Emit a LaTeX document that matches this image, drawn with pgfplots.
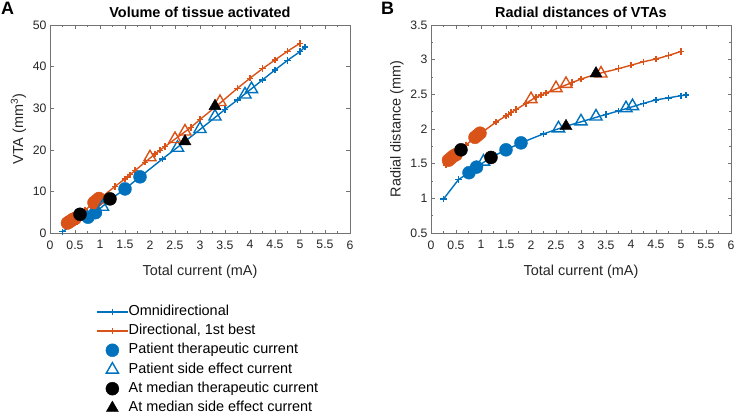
\documentclass[border=0pt]{standalone}
\usepackage{fontspec}
\setmainfont{Liberation Sans}
\usepackage{pgfplots}
\pgfplotsset{compat=1.18}
\definecolor{mblue}{rgb}{0,0.447,0.741}
\definecolor{morange}{rgb}{0.85,0.325,0.098}
\definecolor{axgray}{rgb}{0.15,0.15,0.15}
\definecolor{boxgray}{rgb}{0.45,0.45,0.45}

\pgfplotstableread{
x vta r
0.3 1.9 1.48
0.5 3.6 1.62
0.7 5.5 1.77
0.9 7.4 1.89
1.0 8.3 1.94
1.3 11.2 2.10
1.5 13.0 2.19
1.55 13.5 2.21
1.6 14.0 2.24
1.7 15.0 2.28
1.9 17.0 2.37
2.1 19.0 2.46
2.2 19.9 2.49
2.3 20.8 2.52
2.82 25.4 2.67
3.0 27.3 2.72
3.3 30.2 2.79
3.75 34.8 2.87
4.0 37.2 2.92
4.25 39.5 2.97
4.5 41.6 3.01
4.75 43.7 3.06
5.0 45.6 3.12
}\dirline

\pgfplotstableread{
x vta r
0.25 0.3 0.99
0.55 2.8 1.27
0.76 3.8 1.37
0.91 4.9 1.45
1.2 8.0 1.59
1.5 10.6 1.70
1.8 13.5 1.80
2.25 17.8 1.93
2.7 22.0 2.04
3.5 29.7 2.21
3.75 32.0 2.26
4.25 36.8 2.37
4.5 39.2 2.42
4.75 41.5 2.45
5.0 43.6 2.48
5.1 44.7 2.49
}\omniline

\pgfplotstableread{
x vta r
0.76 3.8 1.37
0.91 4.9 1.45
1.5 10.6 1.70
1.8 13.5 1.80
}\omnither

\pgfplotstableread{
x vta r
1.05 6.3 1.53
2.55 20.5 2.01
3.0 25.0 2.11
3.3 28.0 2.18
3.9 33.3 2.30
4.03 34.6 2.33
}\omniside

\pgfplotstableread{
x vta r
0.35 2.4 1.55
0.4 2.8 1.58
0.45 3.2 1.61
0.5 3.5 1.63
0.88 7.3 1.88
0.93 7.8 1.91
0.98 8.3 1.94
}\dirther

\pgfplotstableread{
x vta r
2.0 18.2 2.43
2.5 22.6 2.59
2.7 24.4 2.65
3.4 31.5 2.80
}\dirside

\pgfplotstableread{
x vta r
0.6 4.5 1.70
1.2 8.2 1.59
}\medther

\pgfplotstableread{
x vta r
2.7 22.0 2.04
3.3 30.5 2.80
}\medside

\pgfplotsset{
  myaxis/.style={
    scale only axis, width=300bp, height=208bp,
    xmin=0, xmax=6, xtick={0,0.5,...,6}, minor x tick num=1,
    tick align=inside,
    major tick length=3.5bp, minor tick length=2.2bp,
    axis line style={draw=boxgray},
    every tick/.style={boxgray},
    tick label style={font=\fontsize{12.3}{12.3}\selectfont, color=axgray},
    xticklabel style={yshift=-4bp},
    label style={font=\fontsize{14.5}{14.5}\selectfont, color=axgray},
    xlabel style={yshift=-9bp},
    title style={font=\bfseries\fontsize{14.5}{14.5}\selectfont, yshift=-2bp},
    /pgf/number format/assume math mode=true,
    /pgf/number format/fixed,
    xlabel={Total current (mA)},
    linestyle/.style={line width=1.4bp, mark=+, mark size=3.2bp},
    circstyle/.style={only marks, mark=*, mark size=6.5bp},
    tristyle/.style={only marks, mark=triangle, mark size=7bp, line width=1.4bp},
    tristylefilled/.style={only marks, mark=triangle*, mark size=7bp},
  }
}

\begin{document}
\begin{tikzpicture}
\useasboundingbox (0,0) rectangle (736bp,-416bp);

\begin{axis}[myaxis, at={(50bp,-233bp)}, anchor=south west,
  ymin=0, ymax=50, ytick={0,10,...,50},
  ylabel={VTA (mm\textsuperscript{3})},
  title={Volume of tissue activated},
  legend image code/.code={\draw[mark repeat=2,mark phase=2,#1] plot coordinates {(0cm,0cm) (0.55cm,0cm) (1.1cm,0cm)};},
  legend style={at={(0.143,-0.337)}, anchor=north west, draw=none, fill=none,
    font=\fontsize{14.5}{14.5}\selectfont, text=black, row sep=5.6bp,
    nodes={inner sep=0pt, text height=10.5bp, text depth=3bp},
    /tikz/every even column/.append style={column sep=4bp}},
  legend cell align=left,
]
\addlegendimage{mblue, linestyle}
\addlegendimage{morange, linestyle}
\addlegendimage{mblue, circstyle}
\addlegendimage{mblue, tristyle}
\addlegendimage{black, circstyle}
\addlegendimage{black, tristylefilled}
\legend{Omnidirectional, {Directional, 1st best}, Patient therapeutic current, Patient side effect current, At median therapeutic current, At median side effect current}

\addplot[mblue, linestyle, forget plot] table[x=x, y=vta] {\omniline};
\addplot[morange, linestyle, forget plot] table[x=x, y=vta] {\dirline};
\addplot[mblue, circstyle, forget plot] table[x=x, y=vta] {\omnither};
\addplot[morange, circstyle, forget plot] table[x=x, y=vta] {\dirther};
\addplot[mblue, tristyle, forget plot] table[x=x, y=vta] {\omniside};
\addplot[morange, tristyle, forget plot] table[x=x, y=vta] {\dirside};
\addplot[black, circstyle, forget plot] table[x=x, y=vta] {\medther};
\addplot[black, tristylefilled, forget plot] table[x=x, y=vta] {\medside};
\end{axis}

\begin{axis}[myaxis, at={(431bp,-233bp)}, anchor=south west,
  ymin=0.5, ymax=3.5, ytick={0.5,1,...,3.5}, minor y tick num=1,
  ylabel={Radial distance (mm)},
  title={Radial distances of VTAs},
]
\addplot[mblue, linestyle] table[x=x, y=r] {\omniline};
\addplot[morange, linestyle] table[x=x, y=r] {\dirline};
\addplot[mblue, circstyle] table[x=x, y=r] {\omnither};
\addplot[morange, circstyle] table[x=x, y=r] {\dirther};
\addplot[mblue, tristyle] table[x=x, y=r] {\omniside};
\addplot[morange, tristyle] table[x=x, y=r] {\dirside};
\addplot[black, circstyle] table[x=x, y=r] {\medther};
\addplot[black, tristylefilled] table[x=x, y=r] {\medside};
\end{axis}

\node[anchor=north west, inner sep=0pt, font=\bfseries\fontsize{18}{18}\selectfont] at (1bp,-2bp) {A};
\node[anchor=north west, inner sep=0pt, font=\bfseries\fontsize{18}{18}\selectfont] at (381bp,-2bp) {B};
\end{tikzpicture}
\end{document}
